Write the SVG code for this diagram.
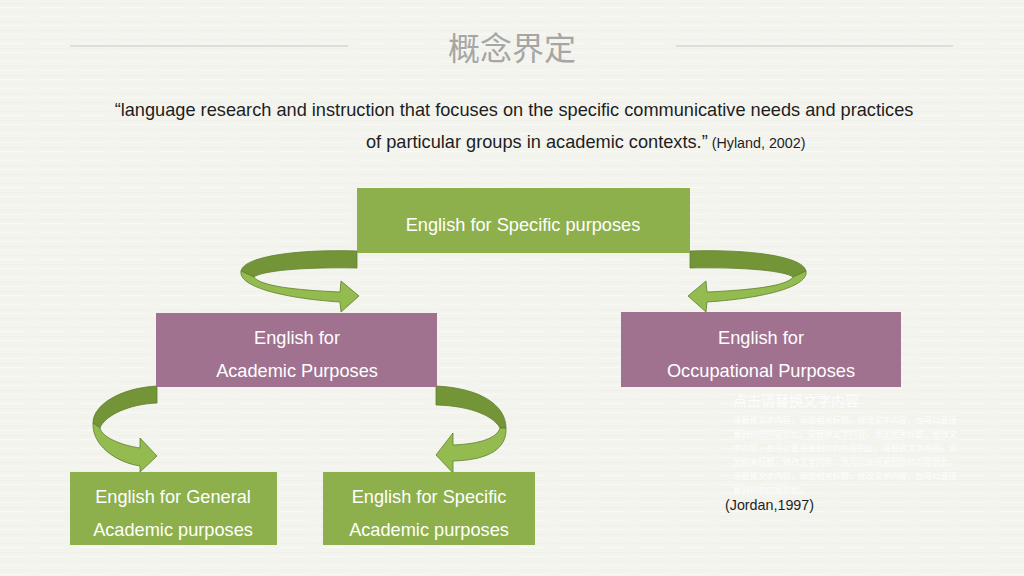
<svg xmlns="http://www.w3.org/2000/svg" width="1024" height="576" viewBox="0 0 1024 576">
  <defs>
    <pattern id="tex" width="40" height="9" patternUnits="userSpaceOnUse">
      <rect width="40" height="9" fill="#f4f4ef"/>
      <rect y="3" width="40" height="1" fill="#eeeee8" opacity="0.6"/>
      <rect y="7" width="25" height="1" fill="#f8f8f5"/>
    </pattern>
    <style>
      .rule { stroke: #d6d6d2; stroke-width: 1.5; }
      .title { font-family: "Noto Sans CJK SC", "Liberation Sans", sans-serif; font-size: 32px; fill: #a6a6a6; }
      .quote { font-family: "Liberation Sans", Arial, sans-serif; font-size: 18.2px; fill: #1e1e1e; }
      .cite { font-family: "Liberation Sans", Arial, sans-serif; font-size: 14.3px; fill: #1e1e1e; }
      .green { fill: #8db04c; }
      .mauve { fill: #a07290; }
      .lbl { font-family: "Liberation Sans", Arial, sans-serif; font-size: 18.2px; fill: #ffffff; text-anchor: middle; }
      .back { fill: #739537; stroke: #5e7d2b; stroke-width: 0.8; stroke-linejoin: round; }
      .front { fill: #93bb4f; stroke: #5e7d2b; stroke-width: 0.8; stroke-linejoin: round; }
      .ph { font-family: "Noto Sans CJK SC", sans-serif; fill: #ffffff; opacity: 0.85; }
    </style>
  </defs>

  <rect width="1024" height="576" fill="url(#tex)"/>

  <g id="header">
    <line class="rule" x1="70" y1="46" x2="348" y2="46"/>
    <line class="rule" x1="676" y1="46" x2="953" y2="46"/>
    <text class="title" x="512" y="60" text-anchor="middle">概念界定</text>
  </g>

  <g id="quote">
    <text class="quote" x="514" y="116" text-anchor="middle">“language research and instruction that focuses on the specific communicative needs and practices</text>
    <text x="366" y="148"><tspan class="quote">of particular groups in academic contexts.”</tspan><tspan class="cite" dx="4">(Hyland, 2002)</tspan></text>
  </g>

  <g id="connectors">
    <g id="arrow-esp-eap">
      <path class="back" d="M357,251 C300,249 244,256 241,271 L254,277 C262,271 300,267 357,268 Z"/>
      <path class="front" d="M241,271 C238,286 280,298 340,302 L341,312 L359,296 L341,281 L340,292 C295,290 260,286 254,277 Z"/>
    </g>
    <g id="arrow-esp-eop" transform="translate(1047,0) scale(-1,1)">
      <path class="back" d="M357,251 C300,249 244,256 241,271 L254,277 C262,271 300,267 357,268 Z"/>
      <path class="front" d="M241,271 C238,286 280,298 340,302 L341,312 L359,296 L341,281 L340,292 C295,290 260,286 254,277 Z"/>
    </g>
    <g id="arrow-eap-egap">
      <path class="back" d="M157,386 C120,388 93,405 93,423 L100,428 C105,415 130,404 157,403 Z"/>
      <path class="front" d="M93,423 C92,445 115,462 140,466 L140,472 L157,456 L140,438 L140,448 C120,445 102,437 100,428 Z"/>
    </g>
    <g id="arrow-eap-esap">
      <path class="back" d="M436,386 C480,388 506,405 506,428 L500,428 C495,418 475,406 436,405 Z"/>
      <path class="front" d="M506,428 C507,448 490,460 453,461 L453,473 L436,455 L453,433 L453,445 C480,444 497,438 500,428 Z"/>
    </g>
  </g>

  <g id="esp">
    <rect class="green" x="357" y="188" width="333" height="65"/>
    <text class="lbl" x="523" y="231">English for Specific purposes</text>
  </g>

  <g id="eap">
    <rect class="mauve" x="156" y="313" width="281" height="74"/>
    <text class="lbl" x="297" y="344">English for</text>
    <text class="lbl" x="297" y="377">Academic Purposes</text>
  </g>

  <g id="eop">
    <rect class="mauve" x="621" y="312" width="280" height="75"/>
    <text class="lbl" x="761" y="344">English for</text>
    <text class="lbl" x="761" y="377">Occupational Purposes</text>
  </g>

  <g id="egap">
    <rect class="green" x="70" y="472" width="207" height="73"/>
    <text class="lbl" x="173" y="503">English for General</text>
    <text class="lbl" x="173" y="536">Academic purposes</text>
  </g>

  <g id="esap">
    <rect class="green" x="323" y="472" width="212" height="73"/>
    <text class="lbl" x="429" y="503">English for Specific</text>
    <text class="lbl" x="429" y="536">Academic purposes</text>
  </g>

  <g id="placeholder">
    <text class="ph" x="733" y="406" font-size="14">点击请替换文字内容</text>
    <text class="ph" font-size="8.3">
      <tspan x="733" y="423">请替换文字内容，添加相关标题，修改文字内容，也可以直接</tspan>
      <tspan x="733" y="437">复制你的内容到此。请替换文字内容，添加相关标题，修改文</tspan>
      <tspan x="733" y="451">字内容，也可以直接复制你的内容到此。请替换文字内容，添</tspan>
      <tspan x="733" y="465">加相关标题，修改文字内容，也可以直接复制你的内容到此。</tspan>
      <tspan x="733" y="479">请替换文字内容，添加相关标题，修改文字内容，也可以直接</tspan>
      <tspan x="733" y="493">复制你的内容到此。</tspan>
    </text>
  </g>

  <g id="citation">
    <text class="cite" x="725" y="510">(Jordan,1997)</text>
  </g>
</svg>
